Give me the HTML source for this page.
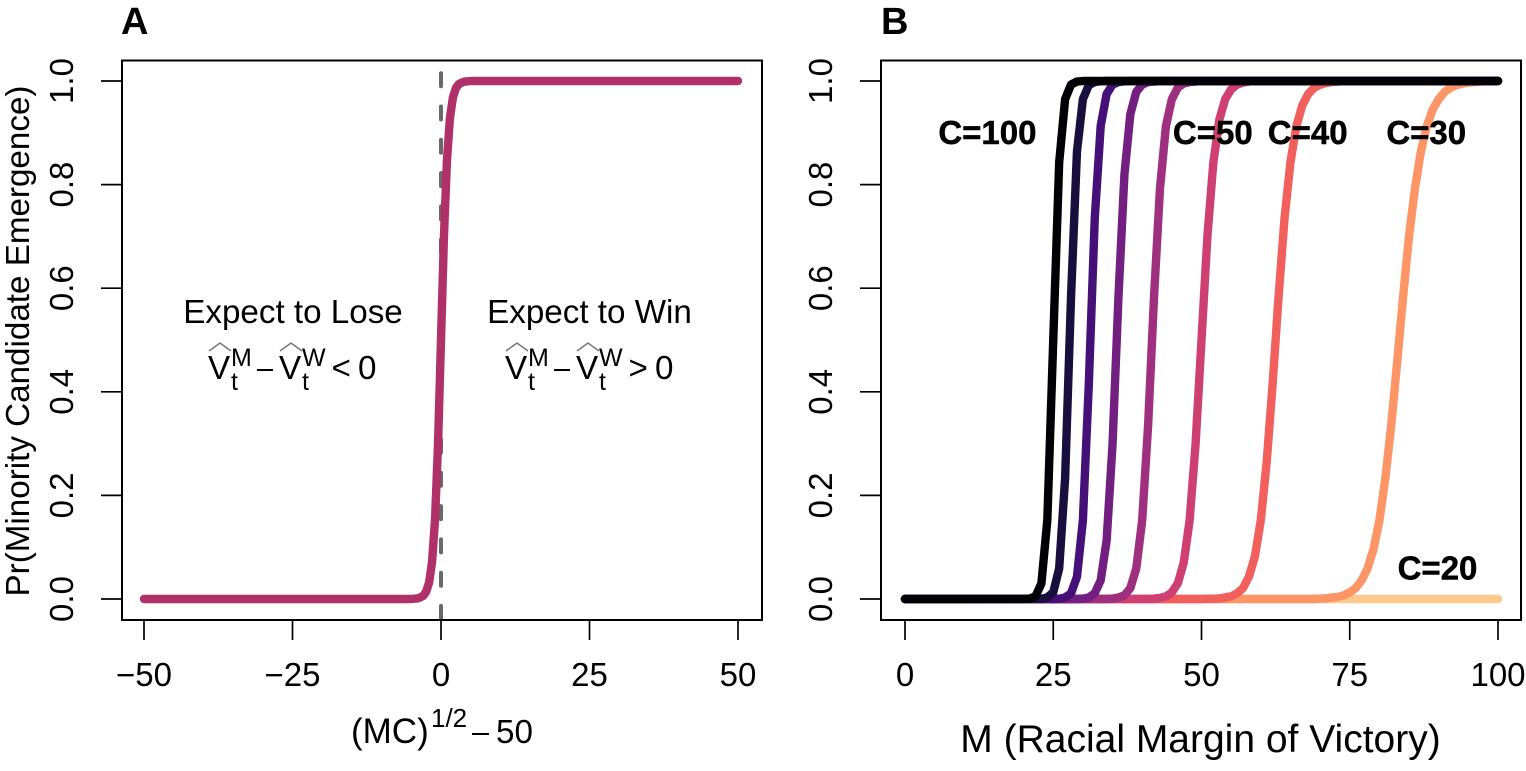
<!DOCTYPE html>
<html lang="en">
<head>
<meta charset="utf-8">
<title>Minority candidate emergence</title>
<style>
html,body{margin:0;padding:0;background:#fff;}
svg{display:block;}
text{font-family:"Liberation Sans",Arial,sans-serif;fill:#000;}
.tick{font-size:33px;}
.lab{font-size:33.2px;}
.bold{font-weight:bold;}
</style>
</head>
<body>
<svg id="figure" xmlns="http://www.w3.org/2000/svg" width="1526" height="771" viewBox="0 0 1526 771">
  <rect x="0" y="0" width="1526" height="771" fill="#fff"/>
  <g id="panelA"></g>
  <g id="panelB"></g>

  <text class="bold" x="121" y="34" font-size="38">A</text>
  <text class="bold" x="881" y="34" font-size="38">B</text>

  <text transform="translate(29,341) rotate(-90)" text-anchor="middle" font-size="33.2">Pr(Minority Candidate Emergence)</text>

  <g>
    <text x="351" y="743" font-size="35">(MC)</text>
    <text x="431" y="727" font-size="26">1/2</text>
    <line x1="472" y1="734" x2="489" y2="734" stroke="#000" stroke-width="2"/>
    <text x="496" y="743" font-size="33.2">50</text>
  </g>
  <text x="1200.5" y="752" text-anchor="middle" font-size="39">M (Racial Margin of Victory)</text>

  <text class="lab" x="293" y="323" text-anchor="middle">Expect to Lose</text>
  <text class="lab" x="589.5" y="323" text-anchor="middle">Expect to Win</text>

  <g>
    <polyline points="209,351 220,343 231,351" fill="none" stroke="#777" stroke-width="1.5"/>
    <text class="lab" x="208" y="379">V</text>
    <text x="231" y="366" font-size="25">M</text>
    <text x="231" y="390" font-size="25">t</text>
    <line x1="257" y1="370" x2="273" y2="370" stroke="#000" stroke-width="2"/>
    <polyline points="280,351 291,343 302,351" fill="none" stroke="#777" stroke-width="1.5"/>
    <text class="lab" x="279" y="379">V</text>
    <text x="302" y="366" font-size="25">W</text>
    <text x="302" y="390" font-size="25">t</text>
    <text class="lab" x="331.5" y="379">&lt;</text>
    <text class="lab" x="358" y="379">0</text>
  </g>
  <g transform="translate(297,0)">
    <polyline points="209,351 220,343 231,351" fill="none" stroke="#777" stroke-width="1.5"/>
    <text class="lab" x="208" y="379">V</text>
    <text x="231" y="366" font-size="25">M</text>
    <text x="231" y="390" font-size="25">t</text>
    <line x1="257" y1="370" x2="273" y2="370" stroke="#000" stroke-width="2"/>
    <polyline points="280,351 291,343 302,351" fill="none" stroke="#777" stroke-width="1.5"/>
    <text class="lab" x="279" y="379">V</text>
    <text x="302" y="366" font-size="25">W</text>
    <text x="302" y="390" font-size="25">t</text>
    <text class="lab" x="331.5" y="379">&gt;</text>
    <text class="lab" x="358" y="379">0</text>
  </g>
</svg>
<script>
// ---------- data: panel A ----------
var scoreA = [-50,-5.5,-5,-4.5,-4,-3.5,-3,-2.5,-2,-1.5,-1,-0.5,0,0.5,1,1.5,2,2.5,3,3.5,4,4.5,5,50];
var probA  = [0,0,0.0002,0.0005,0.001,0.003,0.006,0.014,0.032,0.072,0.154,0.299,0.5,0.701,0.846,0.928,0.968,0.986,0.994,0.997,0.999,0.9995,1,1];
var xTicksA = [-50,-25,0,25,50];
var xTickLabelsA = ["\u221250","\u221225","0","25","50"];
var yTicks = [0,0.2,0.4,0.6,0.8,1];
var yTickLabels = ["0.0","0.2","0.4","0.6","0.8","1.0"];
var cutoffA = 0;

// ---------- data: panel B ----------
var xTicksB = [0,25,50,75,100];
var xTickLabelsB = ["0","25","50","75","100"];

var marginC20  = [0,100];
var probC20    = [0,0];
var marginC30  = [0,69,70,71,72,73,74,75,76,77,78,79,80,81,82,83,84,85,86,87,88,89,90,91,92,93,94,95,96,97,98,100];
var probC30    = [0,0,0.0008,0.001,0.003,0.004,0.007,0.013,0.021,0.036,0.059,0.096,0.152,0.233,0.336,0.458,0.584,0.701,0.793,0.864,0.913,0.945,0.965,0.979,0.987,0.992,0.995,0.997,0.998,0.999,1,1];
var marginC40  = [0,50,51,52,53,54,55,56,57,58,59,60,61,62,63,64,65,66,67,68,69,70,71,72,73,74,100];
var probC40    = [0,0,0.0003,0.0006,0.001,0.003,0.005,0.011,0.021,0.043,0.082,0.152,0.265,0.416,0.584,0.735,0.843,0.913,0.953,0.975,0.987,0.993,0.996,0.998,0.999,1,1];
var marginC50  = [0,41,42,43,44,45,46,47,48,49,50,51,52,53,54,55,56,57,58,59,100];
var probC50    = [0,0,0.0008,0.002,0.005,0.013,0.030,0.070,0.152,0.299,0.5,0.701,0.843,0.925,0.965,0.984,0.993,0.997,0.999,1,1];
var marginC60  = [0,34,35,36,37,38,39,40,41,42,43,44,45,46,47,48,49,50,100];
var probC60    = [0,0,0.0008,0.003,0.007,0.021,0.059,0.152,0.336,0.584,0.793,0.913,0.965,0.987,0.995,0.998,0.999,1,1];
var marginC70  = [0,29,30,31,32,33,34,35,36,37,38,39,40,41,42,43,100];
var probC70    = [0,0,0.0008,0.003,0.011,0.036,0.113,0.299,0.584,0.819,0.936,0.979,0.993,0.998,0.999,1,1];
var marginC80  = [0,25,26,27,28,29,30,31,32,33,34,35,36,37,38,100];
var probC80    = [0,0,0.0006,0.003,0.011,0.043,0.152,0.416,0.735,0.913,0.975,0.993,0.998,0.9994,1,1];
var marginC90  = [0,22,23,24,25,26,27,28,29,30,31,32,33,34,100];
var probC90    = [0,0.0001,0.0005,0.003,0.013,0.059,0.233,0.584,0.864,0.965,0.992,0.998,0.9995,1,1];
var marginC100 = [0,20,21,22,23,24,25,26,27,28,29,30,100];
var probC100   = [0,0.0001,0.0008,0.005,0.030,0.152,0.5,0.843,0.965,0.993,0.999,1,1];

// drawing order: lightest first, black on top
var curveNames   = ["c20","c30","c40","c50","c60","c70","c80","c90","c100"];
var curveMargins = [marginC20,marginC30,marginC40,marginC50,marginC60,marginC70,marginC80,marginC90,marginC100];
var curveProbs   = [probC20,probC30,probC40,probC50,probC60,probC70,probC80,probC90,probC100];
var curveColors  = ["#FEC98D","#FD9567","#F1605D","#CD4071","#9F2F7F","#721F81","#451077","#180F3E","#000004"];

var curveLabels = ["C=100","C=50","C=40","C=30","C=20"];
var curveLabelM = [13.9,51.9,67.9,87.9,89.8];
var curveLabelP = [0.901,0.901,0.901,0.901,0.06];

// ---------- axis functions ----------
var xA = function(v){ return 441 + v * 5.94; };
var xB = function(v){ return 905 + v * 5.93; };
var yP = function(v){ return 599 - v * 518; };

var NS = "http://www.w3.org/2000/svg";
function mk(parent, tag, attrs, text){
  var el = document.createElementNS(NS, tag);
  for (var k in attrs) el.setAttribute(k, attrs[k]);
  if (text !== undefined) el.textContent = text;
  parent.appendChild(el);
  return el;
}
function pathFrom(xs, ys, xf){
  var d = "";
  for (var i = 0; i < xs.length; i++) d += (i ? "L" : "M") + xf(xs[i]).toFixed(2) + " " + yP(ys[i]).toFixed(2);
  return d;
}
function drawFrame(g, left, right, xf, xTicks, xLabels, prefix){
  for (var i = 0; i < xTicks.length; i++){
    var t = mk(g, "line", {x1:xf(xTicks[i]), x2:xf(xTicks[i]), y1:620, y2:640, stroke:"#000", "stroke-width":1.7});
    
    
    var l = mk(g, "text", {"class":"tick", x:xf(xTicks[i]), y:686, "text-anchor":"middle"}, xLabels[i]);
    
    
  }
  for (var j = 0; j < yTicks.length; j++){
    var yy = yP(yTicks[j]);
    var t2 = mk(g, "line", {x1:left-21, x2:left, y1:yy, y2:yy, stroke:"#000", "stroke-width":1.7});
    
    
    var l2 = mk(g, "text", {"class":"tick", transform:"translate("+(left-49)+","+yy+") rotate(-90)", "text-anchor":"middle"}, yTickLabels[j]);
    
    
  }
  var box = mk(g, "rect", {x:left, y:60.5, width:right-left, height:559.5, fill:"none", stroke:"#000", "stroke-width":2});
  
  
}

// ---------- panel A ----------
var gA = document.getElementById("panelA");
var cutLine = mk(gA, "line", {x1:xA(cutoffA), x2:xA(cutoffA), y1:619, y2:72.9, stroke:"#6a6a6a", "stroke-width":4, "stroke-linecap":"round", "stroke-dasharray":"13 20.3"});


var curveA = mk(gA, "path", {d:pathFrom(scoreA, probA, xA), fill:"none", stroke:"#B0306A", "stroke-width":8.4, "stroke-linecap":"round", "stroke-linejoin":"round"});


drawFrame(gA, 122, 762, xA, xTicksA, xTickLabelsA, "panel-a");

// ---------- panel B ----------
var gB = document.getElementById("panelB");
for (var c = 0; c < curveNames.length; c++){
  var p = mk(gB, "path", {d:pathFrom(curveMargins[c], curveProbs[c], xB), fill:"none", stroke:curveColors[c], "stroke-width":8.4, "stroke-linecap":"round", "stroke-linejoin":"round"});
  
  
}
for (var n = 0; n < curveLabels.length; n++){
  var lb = mk(gB, "text", {"class":"bold", x:xB(curveLabelM[n]), y:yP(curveLabelP[n]) + 11.5, "text-anchor":"middle", "font-size":33, stroke:"#000", "stroke-width":0.5}, curveLabels[n]);
  
  
}
drawFrame(gB, 881, 1521, xB, xTicksB, xTickLabelsB, "panel-b");
</script>
</body>
</html>
